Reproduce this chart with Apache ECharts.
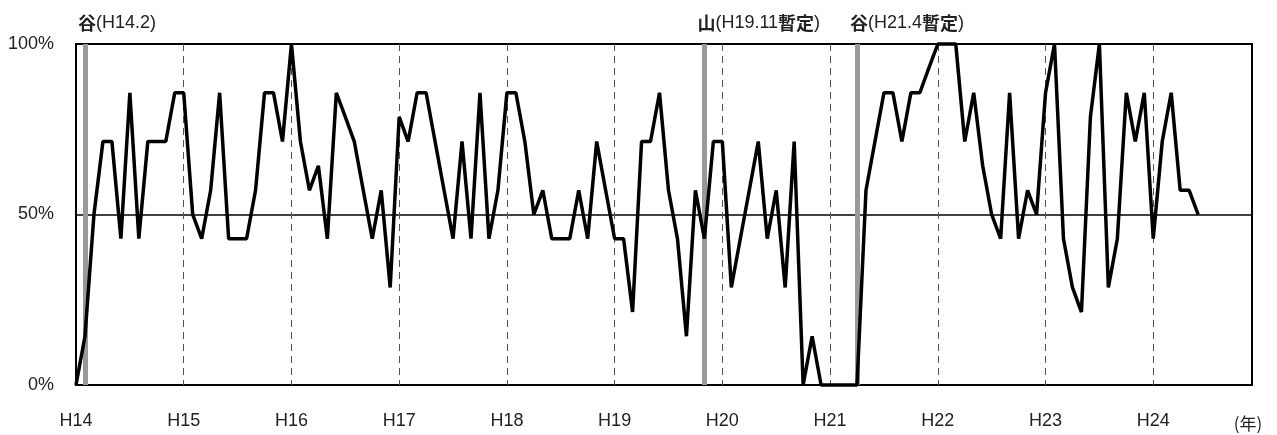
<!DOCTYPE html>
<html>
<head>
<meta charset="utf-8">
<script src="https://cdn.jsdelivr.net/npm/echarts@6/dist/echarts.min.js"></script>
<style>
html,body{margin:0;padding:0;background:#fff;}
#chart{width:1277px;height:435px;}
</style>
</head>
<body>
<div id="chart"></div>
<script>
// Year tick labels (Heisei years)
var yearLabels = ['H14','H15','H16','H17','H18','H19','H20','H21','H22','H23','H24'];
var monthsPerYear = [1,2,3,4,5,6,7,8,9,10,11,12];
// Monthly categories H14.1 ... H24.12
var categories = [];
yearLabels.forEach(function(y){ monthsPerYear.forEach(function(m){ categories.push(y + '.' + m); }); });

// DI values (%) from H14.1 to H24.6
var diValues = [
  0, 14.3, 50, 71.4, 71.4, 42.9, 85.7, 42.9, 71.4, 71.4, 71.4, 85.7,
  85.7, 50, 42.9, 57.1, 85.7, 42.9, 42.9, 42.9, 57.1, 85.7, 85.7, 71.4,
  100, 71.4, 57.1, 64.3, 42.9, 85.7, 78.6, 71.4, 57.1, 42.9, 57.1, 28.6,
  78.6, 71.4, 85.7, 85.7, 71.4, 57.1, 42.9, 71.4, 42.9, 85.7, 42.9, 57.1,
  85.7, 85.7, 71.4, 50, 57.1, 42.9, 42.9, 42.9, 57.1, 42.9, 71.4, 57.1,
  42.9, 42.9, 21.4, 71.4, 71.4, 85.7, 57.1, 42.9, 14.3, 57.1, 42.9, 71.4,
  71.4, 28.6, 42.9, 57.1, 71.4, 42.9, 57.1, 28.6, 71.4, 0, 14.3, 0,
  0, 0, 0, 0, 57.1, 71.4, 85.7, 85.7, 71.4, 85.7, 85.7, 92.9,
  100, 100, 100, 71.4, 85.7, 64.3, 50, 42.9, 85.7, 42.9, 57.1, 50,
  85.7, 100, 42.9, 28.6, 21.4, 78.6, 100, 28.6, 42.9, 85.7, 71.4, 85.7,
  42.9, 71.4, 85.7, 57.1, 57.1, 50
];

// Business-cycle turning points
var turnMonths = ['H14.2', 'H19.11', 'H21.4'];
var turnLabels = [
  '{c|谷}{l|(H14.2)}',
  '{c|山}{l|(H19.11}{c|暫定}{l|)}',
  '{c|谷}{l|(H21.4}{c|暫定}{l|)}'
];
var yTicks = [0, 50, 100];

var latin = '"Liberation Sans", Arial, sans-serif';
var cjk = '"Noto Sans CJK JP", sans-serif';

var chart = echarts.init(document.getElementById('chart'), null, {renderer:'canvas'});
chart.setOption({
  animation: false,
  grid: {left: 76, right: 25, top: 44, bottom: 50, show: true, borderColor: '#000', borderWidth: 2, backgroundColor: 'transparent'},
  xAxis: {
    type: 'category',
    data: categories,
    boundaryGap: false,
    name: '(年)',
    nameLocation: 'end',
    nameGap: -4,
    nameTextStyle: {fontFamily: cjk, fontSize: 17, color: '#222', align: 'center', verticalAlign: 'top', padding: [30,0,0,0]},
    axisLine: {show: false},
    axisTick: {show: false},
    axisLabel: {
      interval: function(i){ return i % 12 === 0; },
      formatter: function(v){ return v.split('.')[0]; },
      fontFamily: latin, fontSize: 18, color: '#222', margin: 27
    },
    splitLine: {
      show: true,
      interval: function(i){ return i % 12 === 0 && i > 0; },
      lineStyle: {color: '#555', width: 1, type: [7,5]}
    }
  },
  yAxis: {
    type: 'value',
    min: 0, max: 100, interval: 50,
    axisLine: {show: false},
    axisTick: {show: false},
    axisLabel: {formatter: '{value}%', fontFamily: latin, fontSize: 18, color: '#222', margin: 22},
    splitLine: {show: true, lineStyle: {color: '#000', width: 1.5}}
  },
  series: [
    {
      type: 'line',
      z: 1,
      data: [],
      silent: true,
      markLine: {
        z: 1,
        silent: true,
        symbol: ['none','none'],
        animation: false,
        lineStyle: {color: '#999', width: 5, type: 'solid'},
        data: turnMonths.map(function(m, k){
          return {
            xAxis: m,
            label: {
              show: true,
              position: 'end',
              formatter: turnLabels[k],
              align: 'left',
              offset: [-7, 0],
              distance: 12,
              rich: {
                c: {fontFamily: cjk, fontSize: 18, fontWeight: 'bold', color: '#222'},
                l: {fontFamily: latin, fontSize: 18, color: '#222'}
              }
            }
          };
        })
      }
    },
    {
      type: 'line',
      z: 3,
      data: diValues,
      showSymbol: false,
      symbol: 'none',
      clip: false,
      lineStyle: {color: '#000', width: 3.5}
    }
  ]
});
</script>
</body>
</html>
